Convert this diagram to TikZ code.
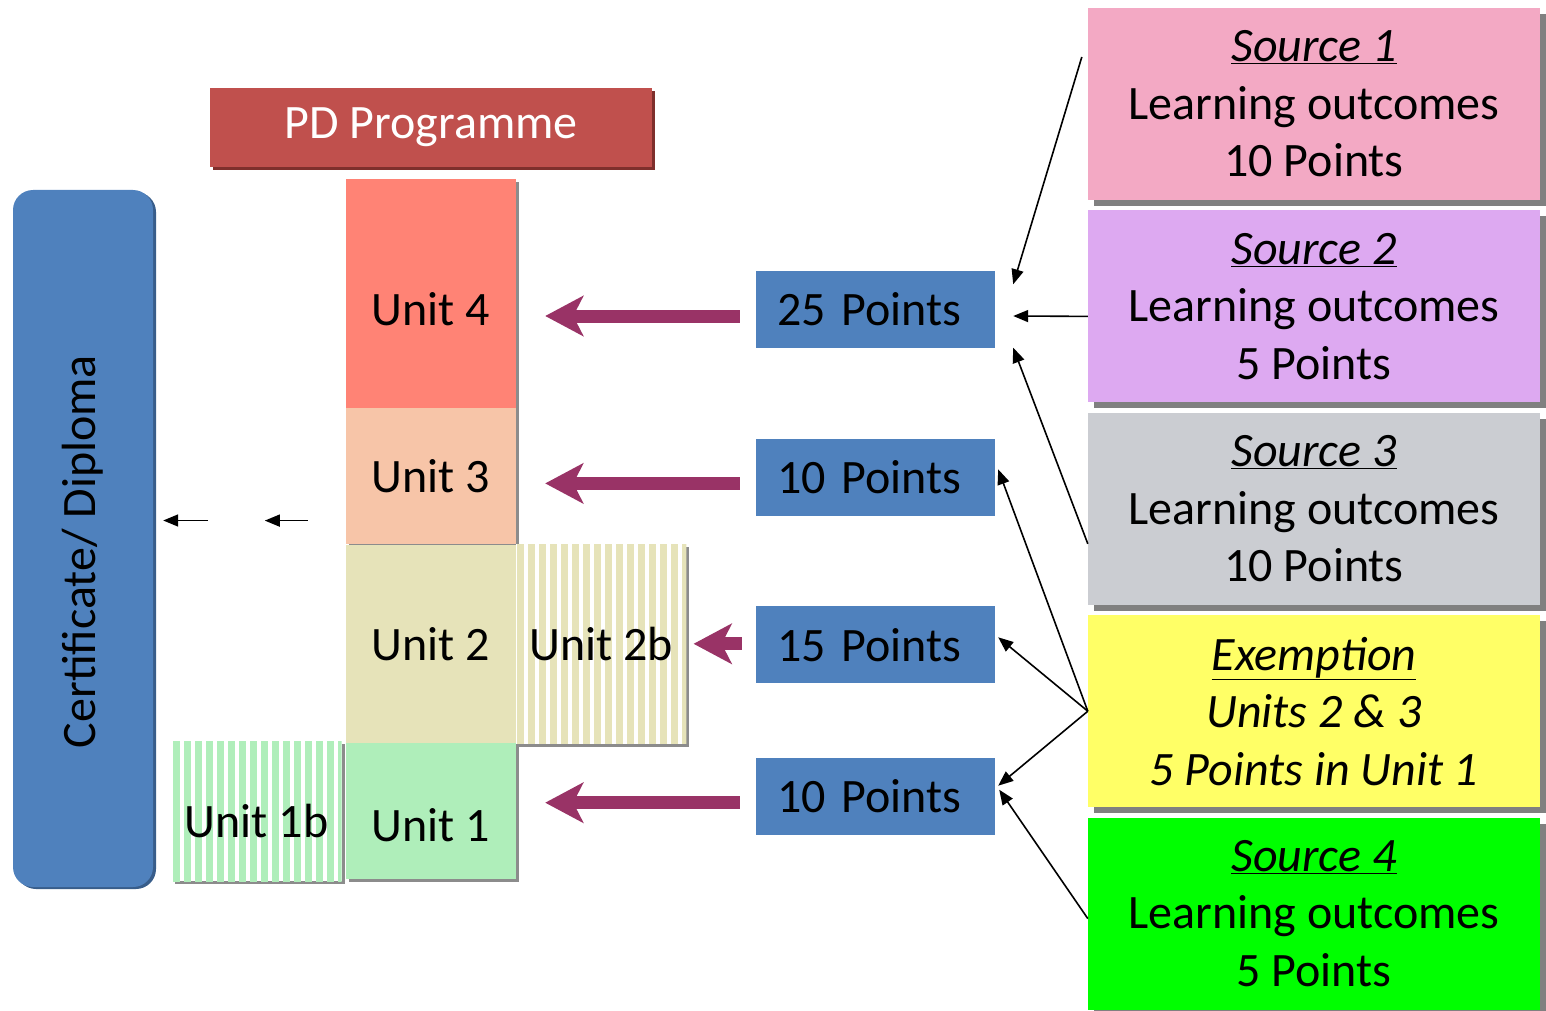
\documentclass[tikz,border=0pt]{standalone}
\usepackage{fontspec}
\setmainfont{Carlito}
\usepackage{xcolor}
\usepackage{graphicx}
\definecolor{cBlue}{HTML}{4F81BD}
\definecolor{cBlueDark}{HTML}{385D8A}
\definecolor{cRed}{HTML}{C0504D}
\definecolor{cRedDark}{HTML}{7F2F2C}
\definecolor{cUnitFour}{HTML}{FF8375}
\definecolor{cUnitThree}{HTML}{F7C5A8}
\definecolor{cUnitTwo}{HTML}{E6E3B9}
\definecolor{cUnitOne}{HTML}{AFEEBA}
\definecolor{cPlum}{HTML}{993366}
\definecolor{cPink}{HTML}{F3A9C4}
\definecolor{cLilac}{HTML}{DDA9F1}
\definecolor{cGrey}{HTML}{CBCDD2}
\definecolor{cYellow}{HTML}{FFFF66}
\definecolor{cGreen}{HTML}{00FF00}
\definecolor{cShadow}{HTML}{808080}
\usepackage{tikz}
\usetikzlibrary{positioning,arrows.meta,shadows,calc}
\tikzset{
  big-font/.style={font=\fontsize{48}{57.5}\selectfont},
  node-unit/.style={big-font,inner sep=0pt,minimum width=170pt,align=center,
    drop shadow={shadow xshift=3pt,shadow yshift=-3pt,fill=black,opacity=.45}},
  node-low/.style={text height=#1,text depth=0pt},
  node-stripes/.style={node-unit,fill=white,path picture={%
      \foreach \k in {0,...,15}
        \fill[#1] ([xshift=\k*11pt+1pt]path picture bounding box.north west)
          rectangle ++(7pt,-220pt);}},
  node-points/.style={big-font,fill=cBlue,inner sep=0pt,text width=197pt,
    align=left,minimum width=239pt,minimum height=77pt},
  node-source/.style={big-font,inner sep=0pt,minimum width=452pt,
    minimum height=192pt,align=center,
    drop shadow={shadow xshift=6pt,shadow yshift=-6pt,fill=cShadow,opacity=1}},
  arrow-big/.style={draw=cPlum,line width=13pt,
    -{Stealth[length=38pt,width=40pt,inset=10pt]}},
  arrow-thin/.style={draw=black,line width=1.6pt,
    -{Triangle[length=15pt,width=12pt]}},
}

\begin{document}
\begin{tikzpicture}[x=1pt,y=-1pt]
  \useasboundingbox (0,0) rectangle (1546,1011);
  % left column
  \node[fill=cBlue,rounded corners=20pt,inner sep=0pt,minimum width=140pt,
    minimum height=697pt,big-font,
    drop shadow={shadow xshift=3pt,shadow yshift=-2pt,fill=cBlueDark,opacity=1}]
    (cert) at (83,538.5) {\rotatebox{90}{Certificate/ Diploma\hspace*{26pt}}};
  \node[fill=cRed,text=white,inner sep=0pt,minimum width=442pt,
    minimum height=79pt,big-font,
    drop shadow={shadow xshift=3pt,shadow yshift=-3pt,fill=cRedDark,opacity=1}]
    (pd) at (431,127.5) {PD Programme};
  % unit stack
  \node[node-unit,node-low=64pt,fill=cUnitFour,minimum height=229pt] (u4) at (431,293.5) {Unit 4};
  \node[node-unit,fill=cUnitThree,minimum height=136pt,below=0pt of u4] (u3) {Unit 3};
  \node[node-unit,fill=cUnitTwo,minimum height=198pt,below=0pt of u3] (u2) {Unit 2};
  \node[node-stripes=cUnitTwo,minimum height=200pt,right=0pt of u2] (u2b) {Unit 2b};
  \node[node-unit,node-low=60pt,fill=cUnitOne,minimum height=136pt,below=0pt of u2] (u1) {Unit 1};
  \node[node-stripes=cUnitOne,node-low=52pt,minimum height=140pt,left=4pt of u1] (u1b) {Unit 1b};
  % points
  \node[node-points] (pts25) at (875.5,309) {25 Points};
  \node[node-points,below=91pt of pts25] (pts10a) {10 Points};
  \node[node-points,below=90pt of pts10a] (pts15) {15 Points};
  \node[node-points,below=74pt of pts15] (pts10b) {10 Points};
  % sources
  \node[node-source,fill=cPink] (src1) at (1314,104)
    {\underline{\textit{Source 1}}\\Learning outcomes\\10 Points};
  \node[node-source,fill=cLilac,below=10pt of src1] (src2)
    {\underline{\textit{Source 2}}\\Learning outcomes\\5 Points};
  \node[node-source,fill=cGrey,below=10pt of src2] (src3)
    {\underline{\textit{Source 3}}\\Learning outcomes\\10 Points};
  \node[node-source,fill=cYellow,below=10pt of src3] (exem)
    {\underline{\textit{Exemption}}\\\textit{Units 2 \& 3}\\\textit{5 Points in Unit 1}};
  \node[node-source,fill=cGreen,below=10pt of exem] (src4)
    {\underline{\textit{Source 4}}\\Learning outcomes\\5 Points};
  % points into units
  \draw[arrow-big,shorten <=16pt,shorten >=29pt]
    ([yshift=-7pt]pts25.west) -- ([yshift=-7pt]pts25.west -| u4.east);
  \draw[arrow-big,shorten <=16pt,shorten >=29pt]
    ([yshift=-6pt]pts10a.west) -- ([yshift=-6pt]pts10a.west -| u3.east);
  \draw[arrow-big,shorten <=14pt,shorten >=7pt]
    ([yshift=1pt]pts15.west) -- ([yshift=1pt]pts15.west -| u2b.east);
  \draw[arrow-big,shorten <=16pt,shorten >=29pt]
    ([yshift=-6.5pt]pts10b.west) -- ([yshift=-6.5pt]pts10b.west -| u1.east);
  % sources into points
  \draw[arrow-thin] ([xshift=-6pt,yshift=47pt]src1.west)
    -- ([xshift=18pt,yshift=-14pt]pts25.north east);
  \draw[arrow-thin] ([yshift=-10pt]src2.west) -- ([xshift=18pt,yshift=-7pt]pts25.east);
  \draw[arrow-thin] ([yshift=-35pt]src3.west) -- ([xshift=18pt]pts25.south east);
  \draw[arrow-thin] (exem.west) -- ([xshift=3pt,yshift=8pt]pts10a.east);
  \draw[arrow-thin] (exem.west) -- ([xshift=3pt,yshift=7.5pt]pts15.east);
  \draw[arrow-thin] (exem.west) -- ([xshift=3pt,yshift=10.5pt]pts10b.east);
  \draw[arrow-thin] ([yshift=-5pt]src4.west) -- ([xshift=4pt,yshift=6.5pt]pts10b.east);
  % units into certificate
  \draw[arrow-thin] ([xshift=-38pt,yshift=24pt]u2.north west)
    -- ([xshift=-81pt,yshift=24pt]u2.north west);
  \draw[arrow-thin] ([xshift=55pt,yshift=18pt]cert.east)
    -- ([xshift=10pt,yshift=18pt]cert.east);
\end{tikzpicture}
\end{document}
